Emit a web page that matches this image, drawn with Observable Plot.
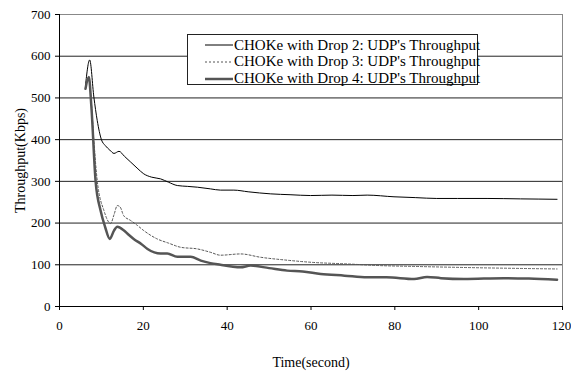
<!DOCTYPE html>
<html>
<head>
<meta charset="utf-8">
<script src="https://cdn.jsdelivr.net/npm/d3@7"></script>
<script src="https://cdn.jsdelivr.net/npm/@observablehq/plot@0.6"></script>
<style>
  html, body { margin: 0; padding: 0; background: #fff; }
  #wrap { position: relative; width: 571px; height: 375px; }
  #wrap svg { overflow: visible; }
  #legend {
    position: absolute; left: 187px; top: 34px; width: 291px; height: 51px;
    border: 1px solid #222; background: #fff; box-sizing: border-box;
    font-family: "Liberation Serif", serif; font-size: 15px; color: #000;
  }
  .row { position: absolute; left: 17px; height: 16px; display: flex; align-items: center; white-space: nowrap; }
  .row svg { width: 28px; height: 6px; margin-right: 1px; }
</style>
</head>
<body>
<div id="wrap"></div>
<script>
// ---- data ----
const timeDrop2 = [6.2, 7.2, 8.2, 9.0, 10.0, 10.9, 12.0, 13.0, 14.2, 15.5, 17.0, 18.5, 20.1, 22.0, 24.1, 26.0, 28.1, 30.5, 32.9, 36, 38.4, 41.6, 45, 50.4, 55, 59.9, 65, 70, 73.4, 79.8, 85, 90, 95, 102, 110, 118.7];
const drop2 = [530, 591, 502, 446, 400, 386, 375, 367, 372, 360, 346, 332, 318, 310, 306, 298, 290, 288, 286, 282, 279, 279, 275, 270, 268, 266, 267, 266, 267, 263, 261, 259, 259, 259, 258, 257];

const timeDrop3 = [6.2, 7.0, 7.6, 8.2, 9.0, 10.6, 12.2, 13.0, 13.8, 14.5, 15.3, 17, 18.5, 20.1, 23.3, 26, 28.9, 32.9, 36, 38.4, 43.2, 48, 54.3, 60, 68.7, 76.6, 85, 94, 105, 118.7];
const drop3 = [525, 550, 490, 398, 302, 230, 199, 220, 242, 238, 218, 206, 195, 182, 162, 152, 142, 138, 130, 123, 126, 118, 111, 106, 102, 98, 96, 94, 92, 90];

const timeDrop4 = [6.2, 7.0, 7.6, 8.6, 9.8, 10.9, 12.0, 13.0, 13.8, 15.3, 16.5, 17.7, 19.5, 21, 24.1, 25.7, 28.1, 31.3, 33.7, 36, 38.4, 41, 43.2, 45.6, 50, 54.3, 58, 62.3, 68, 73.4, 78, 84.6, 87.7, 91, 96.5, 106, 112, 118.7];
const drop4 = [522, 550, 480, 302, 230, 190, 162, 182, 191, 183, 172, 162, 150, 138, 127, 127, 119, 119, 110, 104, 100, 96, 94, 98, 92, 86, 84, 78, 74, 70, 70, 66, 71, 68, 66, 68, 67, 64];

const seriesNames = ["CHOKe with Drop 2: UDP's Throughput", "CHOKe with Drop 3: UDP's Throughput", "CHOKe with Drop 4: UDP's Throughput"];
const xTicks = [0, 20, 40, 60, 80, 100, 120];
const yTicks = [0, 100, 200, 300, 400, 500, 600, 700];
const xTitle = "Time(second)";
const yTitle = "Throughput(Kbps)";

// ---- build ----
const toRows = (ts, vs) => ts.map((t, i) => ({t, v: vs[i]}));
const s2 = toRows(timeDrop2, drop2);
const s3 = toRows(timeDrop3, drop3);
const s4 = toRows(timeDrop4, drop4);

const styles = [
  {stroke: "#000", strokeWidth: 1, dash: null},
  {stroke: "#555", strokeWidth: 1, dash: "2,2"},
  {stroke: "#555", strokeWidth: 2.5, dash: null}
];

const chart = Plot.plot({
  width: 571,
  height: 375,
  marginLeft: 59,
  marginRight: 9,
  marginTop: 14,
  marginBottom: 69,
  style: {fontFamily: "Liberation Serif, serif", fontSize: "13px", color: "#000", background: "#fff", overflow: "visible"},
  x: {domain: [0, 120]},
  y: {domain: [0, 700]},
  marks: [
    Plot.gridY(yTicks.slice(1, -1), {stroke: "#222", strokeOpacity: 1}),
    Plot.ruleY([700], {stroke: "#888"}),
    Plot.ruleX([120], {stroke: "#888"}),
    Plot.line(s2, {x: "t", y: "v", stroke: styles[0].stroke, strokeWidth: styles[0].strokeWidth, curve: "monotone-x"}),
    Plot.line(s3, {x: "t", y: "v", stroke: styles[1].stroke, strokeWidth: styles[1].strokeWidth, strokeDasharray: styles[1].dash, curve: "monotone-x"}),
    Plot.line(s4, {x: "t", y: "v", stroke: styles[2].stroke, strokeWidth: styles[2].strokeWidth, curve: "monotone-x"}),
    Plot.axisX({ticks: xTicks, tickSize: 4, tickPadding: 10, label: xTitle, labelAnchor: "center", labelOffset: 60, labelArrow: "none"}),
    Plot.axisY({ticks: yTicks, tickSize: 4, tickPadding: 5, label: yTitle, labelAnchor: "center", labelOffset: 44, labelArrow: "none"}),
    Plot.ruleY([0], {stroke: "#000"}),
    Plot.ruleX([0], {stroke: "#000"})
  ]
});

const wrap = document.getElementById("wrap");
wrap.appendChild(chart);
chart.querySelectorAll("[aria-label='x-axis label'] text, [aria-label='y-axis label'] text").forEach(t => t.style.fontSize = "14px");
// keep the last x tick label inside the page
const xLabels = chart.querySelectorAll("[aria-label='x-axis tick label'] text");
if (xLabels.length) xLabels[xLabels.length - 1].setAttribute("dx", "-1");

// legend overlay
const legend = document.createElement("div");
legend.id = "legend";
const rowTops = [2, 18.7, 35.7];
seriesNames.forEach((name, i) => {
  const row = document.createElement("div");
  row.className = "row";
  row.style.top = rowTops[i] + "px";
  const st = styles[i];
  row.innerHTML = `<svg viewBox="0 0 28 6"><line x1="0" y1="3" x2="28" y2="3" stroke="${st.stroke}" stroke-width="${st.strokeWidth}" ${st.dash ? `stroke-dasharray="${st.dash}"` : ""}/></svg><span></span>`;
  row.querySelector("span").textContent = name;
  legend.appendChild(row);
});
wrap.appendChild(legend);
</script>
</body>
</html>
